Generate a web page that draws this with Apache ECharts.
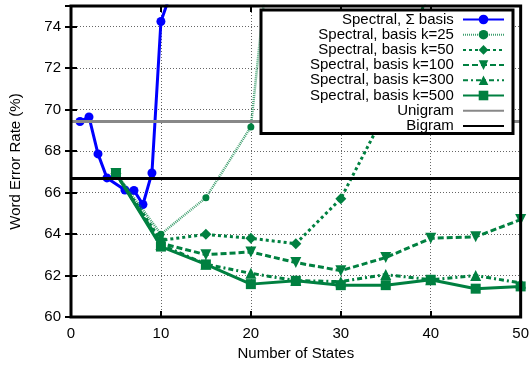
<!DOCTYPE html>
<html>
<head>
<meta charset="utf-8">
<script src="https://cdn.jsdelivr.net/npm/echarts@6/dist/echarts.min.js"></script>
<style>
html,body{margin:0;padding:0;background:#fff;}
#c{width:532px;height:366px;}
</style>
</head>
<body>
<div id="c"></div>
<script>
// ---- data ----
const sigmaX = [1, 2, 3, 4, 6, 7, 8, 9, 10, 15];
const sigmaY = [69.43, 69.65, 67.87, 66.71, 66.13, 66.11, 65.43, 66.95, 74.25, 80.5];
const k25X = [5, 10, 15, 20, 25];
const k25Y = [66.92, 64.0, 65.76, 69.17, 90.0];
const k50X = [5, 10, 15, 20, 25, 30, 35, 40];
const k50Y = [66.92, 63.7, 63.99, 63.8, 63.54, 65.71, 69.9, 76.0];
const kX = [5, 10, 15, 20, 25, 30, 35, 40, 45, 50];
const k100Y = [66.92, 63.56, 63.01, 63.14, 62.63, 62.24, 62.87, 63.8, 63.87, 64.7];
const k300Y = [66.92, 63.5, 62.55, 62.11, 61.76, 61.71, 62.05, 61.8, 62.0, 61.65];
const k500Y = [66.92, 63.4, 62.54, 61.59, 61.75, 61.54, 61.54, 61.8, 61.37, 61.48];
const unigramY = 69.43;
const bigramY = 66.68;
const xRange = [0, 50];
const xTicks = [0, 10, 20, 30, 40, 50];
const yTicks = [60, 62, 64, 66, 68, 70, 72, 74];
const names = ['Spectral, \u03a3 basis', 'Spectral, basis k=25', 'Spectral, basis k=50',
  'Spectral, basis k=100', 'Spectral, basis k=300', 'Spectral, basis k=500', 'Unigram', 'Bigram'];

const zip = (xs, ys) => xs.map((x, i) => [x, ys[i]]);
const GREEN = '#008040';
const FONT = 'Liberation Sans, Arial, sans-serif';

const chart = echarts.init(document.getElementById('c'), null, {renderer: 'canvas'});

const tickCommon = {show: true, inside: true, length: 6, lineStyle: {color: '#000', width: 2}};
const gridLine = {show: true, lineStyle: {color: '#666', width: 1, type: [1, 2]}};

function lineSeries(name, data, color, width, type, symbol, size, extra) {
  return Object.assign({
    name, type: 'line', data, clip: true,
    symbol, symbolSize: size,
    lineStyle: {color, width, type},
    itemStyle: {color},
    emphasis: {disabled: true},
    animation: false
  }, extra || {});
}

const legendData = names.map((n, i) => i >= 6 ? {name: n, itemStyle: {opacity: 0}} : {name: n});

chart.setOption({
  animation: false,
  backgroundColor: '#fff',
  textStyle: {fontFamily: FONT},
  grid: {left: 67, right: 11, top: 6, bottom: 44, show: true, borderColor: '#000', borderWidth: 3, backgroundColor: 'transparent', z: 10},
  legend: {
    orient: 'vertical', right: 19, top: 10, align: 'right',
    backgroundColor: '#fff', borderColor: '#000', borderWidth: 3,
    padding: [2, 8, 0, 49], itemWidth: 41, itemHeight: 12, itemGap: 0.2,
    textStyle: {fontSize: 15, lineHeight: 15, color: '#000', fontFamily: FONT},
    formatter: n => n + ' ',
    data: legendData, z: 20,
    selectedMode: false
  },
  xAxis: [{
    type: 'value', min: xRange[0], max: xRange[1], interval: 10,
    axisLine: {show: false}, axisTick: tickCommon,
    axisLabel: {fontSize: 15, color: '#000', margin: 9, fontFamily: FONT,
      formatter: v => xTicks.includes(v) ? String(v) : ''},
    splitLine: gridLine,
    name: 'Number of States', nameLocation: 'middle', nameGap: 27,
    nameTextStyle: {fontSize: 15, color: '#000', fontFamily: FONT}
  }, {
    type: 'value', position: 'top', min: xRange[0], max: xRange[1], interval: 10,
    axisLine: {show: false}, axisTick: tickCommon, axisLabel: {show: false}, splitLine: {show: false}
  }],
  yAxis: [{
    type: 'value', min: 60, max: 75, interval: 2,
    axisLine: {show: false}, axisTick: tickCommon,
    axisLabel: {fontSize: 15, color: '#000', margin: 10, fontFamily: FONT,
      formatter: v => yTicks.includes(v) ? String(v) : ''},
    splitLine: gridLine,
    name: 'Word Error Rate (%)', nameLocation: 'middle', nameGap: 48, nameRotate: 90,
    nameTextStyle: {fontSize: 15, color: '#000', fontFamily: FONT}
  }, {
    type: 'value', position: 'right', min: 60, max: 75, interval: 2,
    axisLine: {show: false}, axisTick: tickCommon, axisLabel: {show: false}, splitLine: {show: false}
  }],
  series: [
    lineSeries(names[0], zip(sigmaX, sigmaY), '#0000ff', 3, 'solid', 'circle', 9, {z: 2}),
    lineSeries(names[1], zip(k25X, k25Y), GREEN, 3, [1, 1], 'circle', 7, {z: 3, lineStyle: {color: GREEN, width: 2.5, type: [1, 1], opacity: 0.75}}),
    lineSeries(names[2], zip(k50X, k50Y), GREEN, 3, [3, 3], 'diamond', 11, {z: 3}),
    lineSeries(names[3], zip(kX, k100Y), GREEN, 3, [6, 3], 'triangle', 11, {z: 3, symbolRotate: 180}),
    lineSeries(names[4], zip(kX, k300Y), GREEN, 3, [5, 3, 2, 3], 'triangle', 11, {z: 3}),
    lineSeries(names[5], zip(kX, k500Y), GREEN, 3, 'solid', 'rect', 10, {z: 4}),
    lineSeries(names[6], xRange.map(x => [x, unigramY]), '#888888', 3, 'solid', 'none', 0, {z: 5}),
    lineSeries(names[7], xRange.map(x => [x, bigramY]), '#000000', 3, 'solid', 'none', 0, {z: 5})
  ]
});
</script>
</body>
</html>
